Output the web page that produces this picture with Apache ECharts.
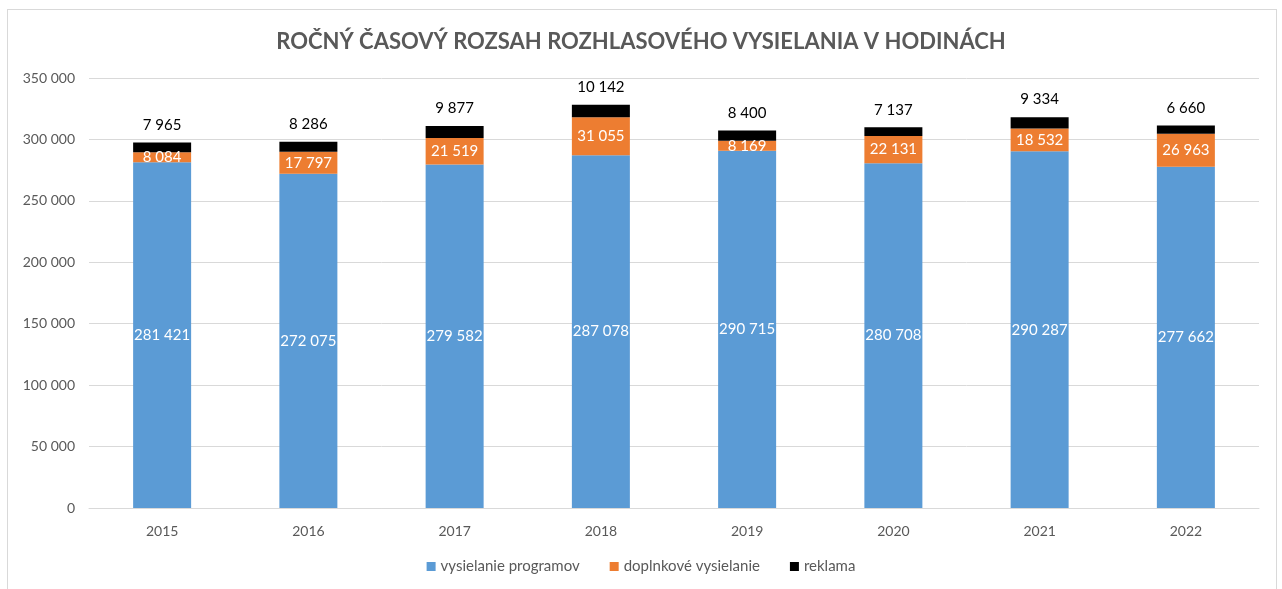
<!DOCTYPE html>
<html>
<head>
<meta charset="utf-8">
<script src="https://cdn.jsdelivr.net/npm/echarts@6/dist/echarts.min.js"></script>
<style>
  html, body { margin: 0; padding: 0; background: #fff; }
  #frame { position: absolute; left: 7px; top: 9px; width: 1268px; height: 600px; border: 1px solid #d9d9d9; }
  #chart { position: absolute; left: 0; top: 0; width: 1282px; height: 589px; }
</style>
</head>
<body>
<div id="frame"></div>
<div id="chart"></div>
<script>
// roky
const years = ['2015', '2016', '2017', '2018', '2019', '2020', '2021', '2022'];
// vysielanie programov
const programy = [281421, 272075, 279582, 287078, 290715, 280708, 290287, 277662];
// doplnkove vysielanie
const doplnkove = [8084, 17797, 21519, 31055, 8169, 22131, 18532, 26963];
// reklama
const reklama = [7965, 8286, 9877, 10142, 8400, 7137, 9334, 6660];

const fmt = v => String(v).replace(/\B(?=(\d{3})+(?!\d))/g, ' ');
const font = 'Lato, "Open Sans", sans-serif';

const chart = echarts.init(document.getElementById('chart'));
chart.setOption({
  animation: false,
  textStyle: { fontFamily: font },
  title: {
    text: 'ROČNÝ ČASOVÝ ROZSAH ROZHLASOVÉHO VYSIELANIA V HODINÁCH',
    left: 'center',
    top: 26,
    textStyle: { fontFamily: font, fontSize: 22, fontWeight: 'bold', color: '#595959' }
  },
  legend: {
    bottom: 10,
    itemWidth: 9,
    itemHeight: 9,
    itemGap: 30,
    icon: 'rect',
    textStyle: { fontFamily: font, fontSize: 15, color: '#595959' },
    data: ['vysielanie programov', 'doplnkové vysielanie', 'reklama']
  },
  grid: { left: 89, right: 23, top: 78, bottom: 81 },
  xAxis: {
    type: 'category',
    data: years,
    axisLine: { lineStyle: { color: '#d9d9d9' } },
    axisTick: { show: false },
    axisLabel: { color: '#595959', fontSize: 14, margin: 16 }
  },
  yAxis: {
    type: 'value',
    min: 0,
    max: 350000,
    interval: 50000,
    axisLine: { show: false },
    axisTick: { show: false },
    splitLine: { lineStyle: { color: '#d9d9d9' } },
    axisLabel: { color: '#595959', fontSize: 14, margin: 14, formatter: fmt }
  },
  series: [
    {
      name: 'vysielanie programov',
      type: 'bar',
      stack: 'spolu',
      barWidth: 58,
      data: programy,
      itemStyle: { color: '#5b9bd5' },
      label: { show: true, position: 'inside', color: '#fff', fontSize: 15, formatter: p => fmt(p.value) }
    },
    {
      name: 'doplnkové vysielanie',
      type: 'bar',
      stack: 'spolu',
      data: doplnkove,
      itemStyle: { color: '#ed7d31' },
      label: { show: true, position: 'inside', color: '#fff', fontSize: 15, formatter: p => fmt(p.value) }
    },
    {
      name: 'reklama',
      type: 'bar',
      stack: 'spolu',
      data: reklama,
      itemStyle: { color: '#000' },
      label: { show: true, position: 'top', distance: 10, color: '#000', fontSize: 15, formatter: p => fmt(p.value) }
    }
  ]
});
</script>
</body>
</html>
